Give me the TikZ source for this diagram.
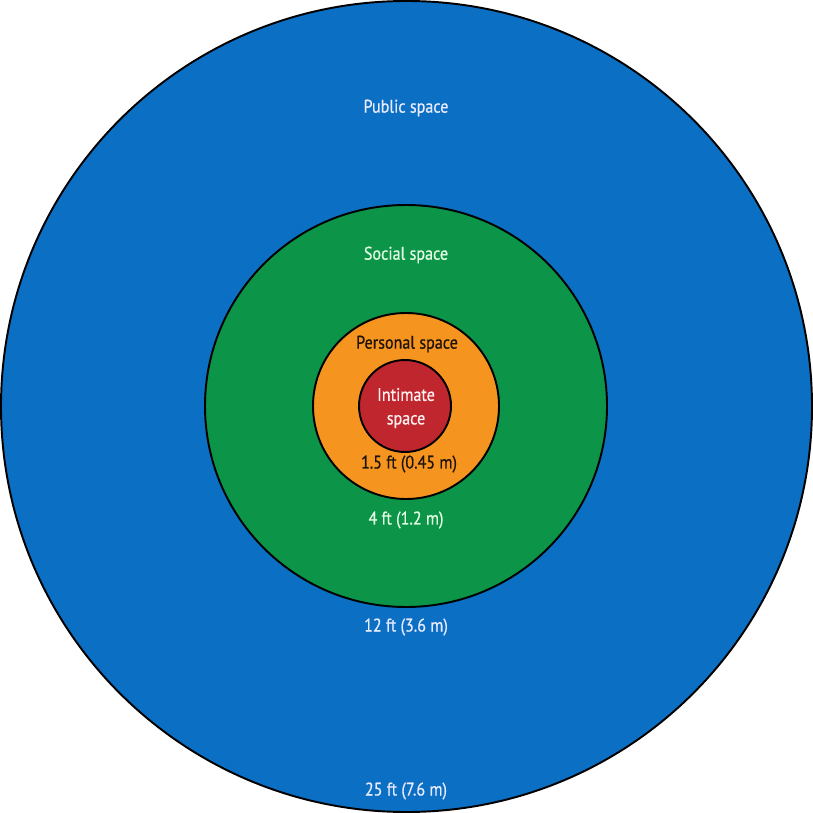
\documentclass[tikz,border=0pt]{standalone}
\usepackage{fontspec}
\setmainfont{PT Sans}[FakeStretch=0.88,FakeBold=0.6]
\definecolor{publicblue}{RGB}{11,111,196}
\definecolor{socialgreen}{RGB}{12,148,72}
\definecolor{personalorange}{RGB}{246,148,32}
\definecolor{intimatered}{RGB}{192,38,46}

\begin{document}
\begin{tikzpicture}[x=0.02cm,y=-0.02cm,
		zone/.style={draw=black,line width=1.1pt},
		lbl/.style={inner sep=0pt,font=\fontsize{10.4}{12.4}\selectfont,align=center}]
				\useasboundingbox (0,0) rectangle (813,813);
				\filldraw[zone,fill=publicblue] (406.5,406.5) circle[radius=405.5];
				\filldraw[zone,fill=socialgreen] (406,406) circle[radius=201];
				\filldraw[zone,fill=personalorange] (406,406) circle[radius=93];
				\filldraw[zone,fill=intimatered] (405,406) circle[radius=46];
				\node[lbl,text=blue!8] (public) at (406,108) {Public space};
				\node[lbl,text=green!10] (social) at (406,255) {Social space};
				\node[lbl,text=black!85!brown] (personal) at (407,344) {Personal space};
				\node[lbl,text=red!6] (intimate) at (406,408) {Intimate\\[1pt]space};
				\node[lbl,text=black!85!brown] (d1) at (409,464) {1.5 ft (0.45 m)};
				\node[lbl,text=green!10] (d2) at (406,520) {4 ft (1.2 m)};
				\node[lbl,text=blue!8] (d3) at (406,627) {12 ft (3.6 m)};
				\node[lbl,text=blue!8] (d4) at (406,791) {25 ft (7.6 m)};
			\end{tikzpicture}
\end{document}
